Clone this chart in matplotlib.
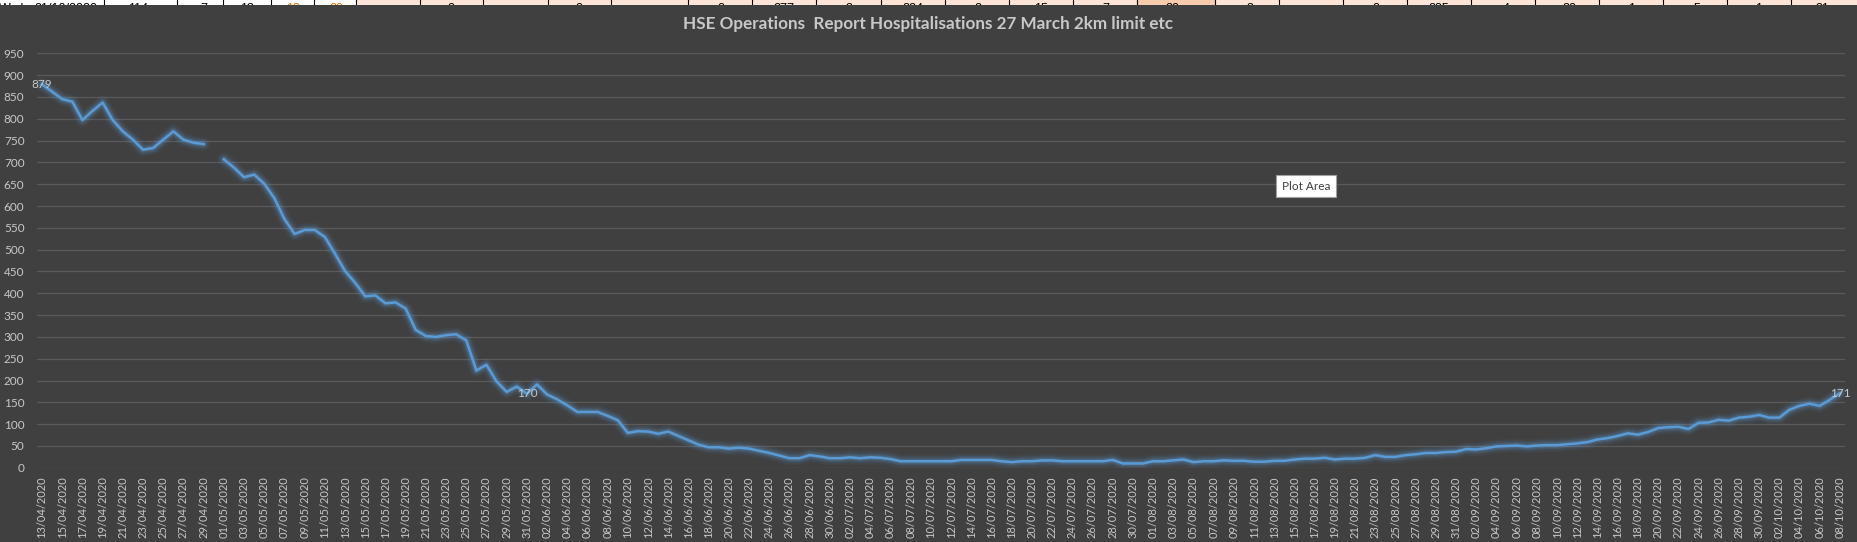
import numpy as np
import pandas as pd
import matplotlib
matplotlib.use("Agg")
import matplotlib.pyplot as plt

# daily hospitalisations 13/04/2020 .. 08/10/2020 (30/04 missing)
dates = pd.date_range("2020-04-13", "2020-10-08", freq="D")
date_labels = [d.strftime("%d/%m/%Y") for d in dates]

hosp = [879, 862, 845, 839, 797, 818, 837, 797, 771, 752,
        729, 733, 752, 771, 752, 745, 742, None, 707, 688,
        666, 672, 651, 618, 570, 536, 545, 545, 529, 491,
        451, 424, 393, 395, 377, 379, 365, 316, 302, 300,
        304, 306, 292, 223, 236, 198, 174, 186, 170, 191,
        168, 157, 143, 128, 128, 128, 119, 109, 80, 84,
        83, 78, 83, 73, 63, 53, 47, 47, 44, 46,
        44, 39, 34, 28, 22, 22, 29, 26, 22, 22,
        24, 22, 24, 23, 20, 15, 15, 15, 15, 15,
        15, 18, 18, 18, 18, 15, 13, 15, 15, 17,
        17, 15, 15, 15, 15, 15, 18, 10, 10, 10,
        15, 15, 17, 19, 13, 15, 15, 17, 16, 16,
        14, 14, 16, 16, 19, 21, 21, 23, 19, 21,
        21, 23, 29, 25, 25, 29, 31, 34, 34, 36,
        37, 43, 42, 45, 49, 50, 51, 49, 51, 52,
        52, 54, 56, 59, 65, 68, 73, 79, 76, 82,
        91, 93, 94, 89, 103, 104, 110, 108, 115, 117,
        121, 115, 115, 133, 142, 147, 142, 156, 171]
labelled = [0, 48, 178]

title = "HSE Operations  Report Hospitalisations 27 March 2km limit etc"

# bits of the spreadsheet row peeking in above the chart
strip_cells = [(12, "Wed", "k"), (66, "01/10/2020", "k"), (138, "114", "k"), (204, "7", "k"),
               (247, "13", "k"), (293, "13", "#E26B0A"), (336, "20", "#E26B0A"),
               (451, "0", "k"), (579, "0", "k"), (721, "0", "k"), (784, "277", "k"),
               (849, "3", "k"), (913, "224", "k"), (978, "2", "k"), (1041, "15", "k"),
               (1106, "7", "k"), (1172, "20", "k"), (1250, "3", "k"), (1376, "0", "k"),
               (1439, "285", "k"), (1506, "4", "k"), (1569, "20", "k"), (1632, "1", "k"),
               (1697, "5", "k"), (1759, "1", "k"), (1822, "31", "k")]
strip_borders = [104, 177, 223, 271, 314, 356, 420, 483, 548, 611, 688, 752, 816, 881,
                 945, 1009, 1073, 1137, 1215, 1279, 1343, 1407, 1471, 1535, 1599, 1663,
                 1727, 1791]

bg = "#404040"
txt = "#C8C8C8"
blue = "#5B9BD5"
W, H = 1857, 542

plt.rcParams["font.family"] = ["Lato", "DejaVu Sans"]

fig = plt.figure(figsize=(W / 100, H / 100), dpi=100, facecolor=bg)

ax = fig.add_axes([37 / W, (H - 467.8) / H, (1845 - 37) / W, (467.8 - 53.3) / H])
ax.set_facecolor(bg)

y = np.array(hosp, dtype=float)
x = np.arange(len(y))

# soft glow under the line
for lw, a in [(10, 0.06), (7.5, 0.09), (5.5, 0.13), (3.8, 0.2)]:
    ax.plot(x, y, color=blue, lw=lw, alpha=a, solid_capstyle="round", solid_joinstyle="round")
ax.plot(x, y, color=blue, lw=1.8, solid_joinstyle="round")

for i in labelled:
    ax.text(i, y[i], str(int(y[i])), color=txt, fontsize=8.5, ha="center", va="center")

ax.set_xlim(-0.5, len(y) - 0.5)
ax.set_ylim(0, 950)
ax.set_yticks(np.arange(0, 951, 50))
ax.set_xticks(x[::2])
ax.set_xticklabels(date_labels[::2], rotation=90)
ax.grid(axis="y", color="#5A5A5A", lw=0.9)
ax.set_axisbelow(True)
ax.tick_params(length=0, colors=txt, labelsize=8.5)
ax.tick_params(axis="x", labelsize=8, pad=6)
ax.tick_params(axis="y", pad=9)
for s in ax.spines.values():
    s.set_visible(False)

fig.text(928 / W, 1 - 24 / H, title, color=txt, fontsize=12.3, fontweight="bold",
         ha="center", va="center")

fig.text(1306 / W, 1 - 186 / H, "Plot Area", color="#404040", fontsize=8.5,
         ha="center", va="center",
         bbox=dict(boxstyle="square,pad=0.45", fc="white", ec="#A0A0A0", lw=0.8))

# spreadsheet strip
st = fig.add_axes([0, 1 - 5 / H, 1, 5 / H])
st.set_xlim(0, W)
st.set_ylim(5, 0)
st.axis("off")
st.axvspan(0, 356, color="white")
st.axvspan(356, W, color="#FCE4D6")
st.axvspan(1137, 1215, color="#F8CBAD")
for b in strip_borders:
    st.axvline(b, color="black", lw=0.8)
for cx, s, c in strip_cells:
    st.text(cx, 9.5, s, color=c, fontsize=9, ha="center", va="center",
            family="Liberation Sans", clip_on=True)

fig.savefig("out.png", dpi=100, facecolor=bg)
